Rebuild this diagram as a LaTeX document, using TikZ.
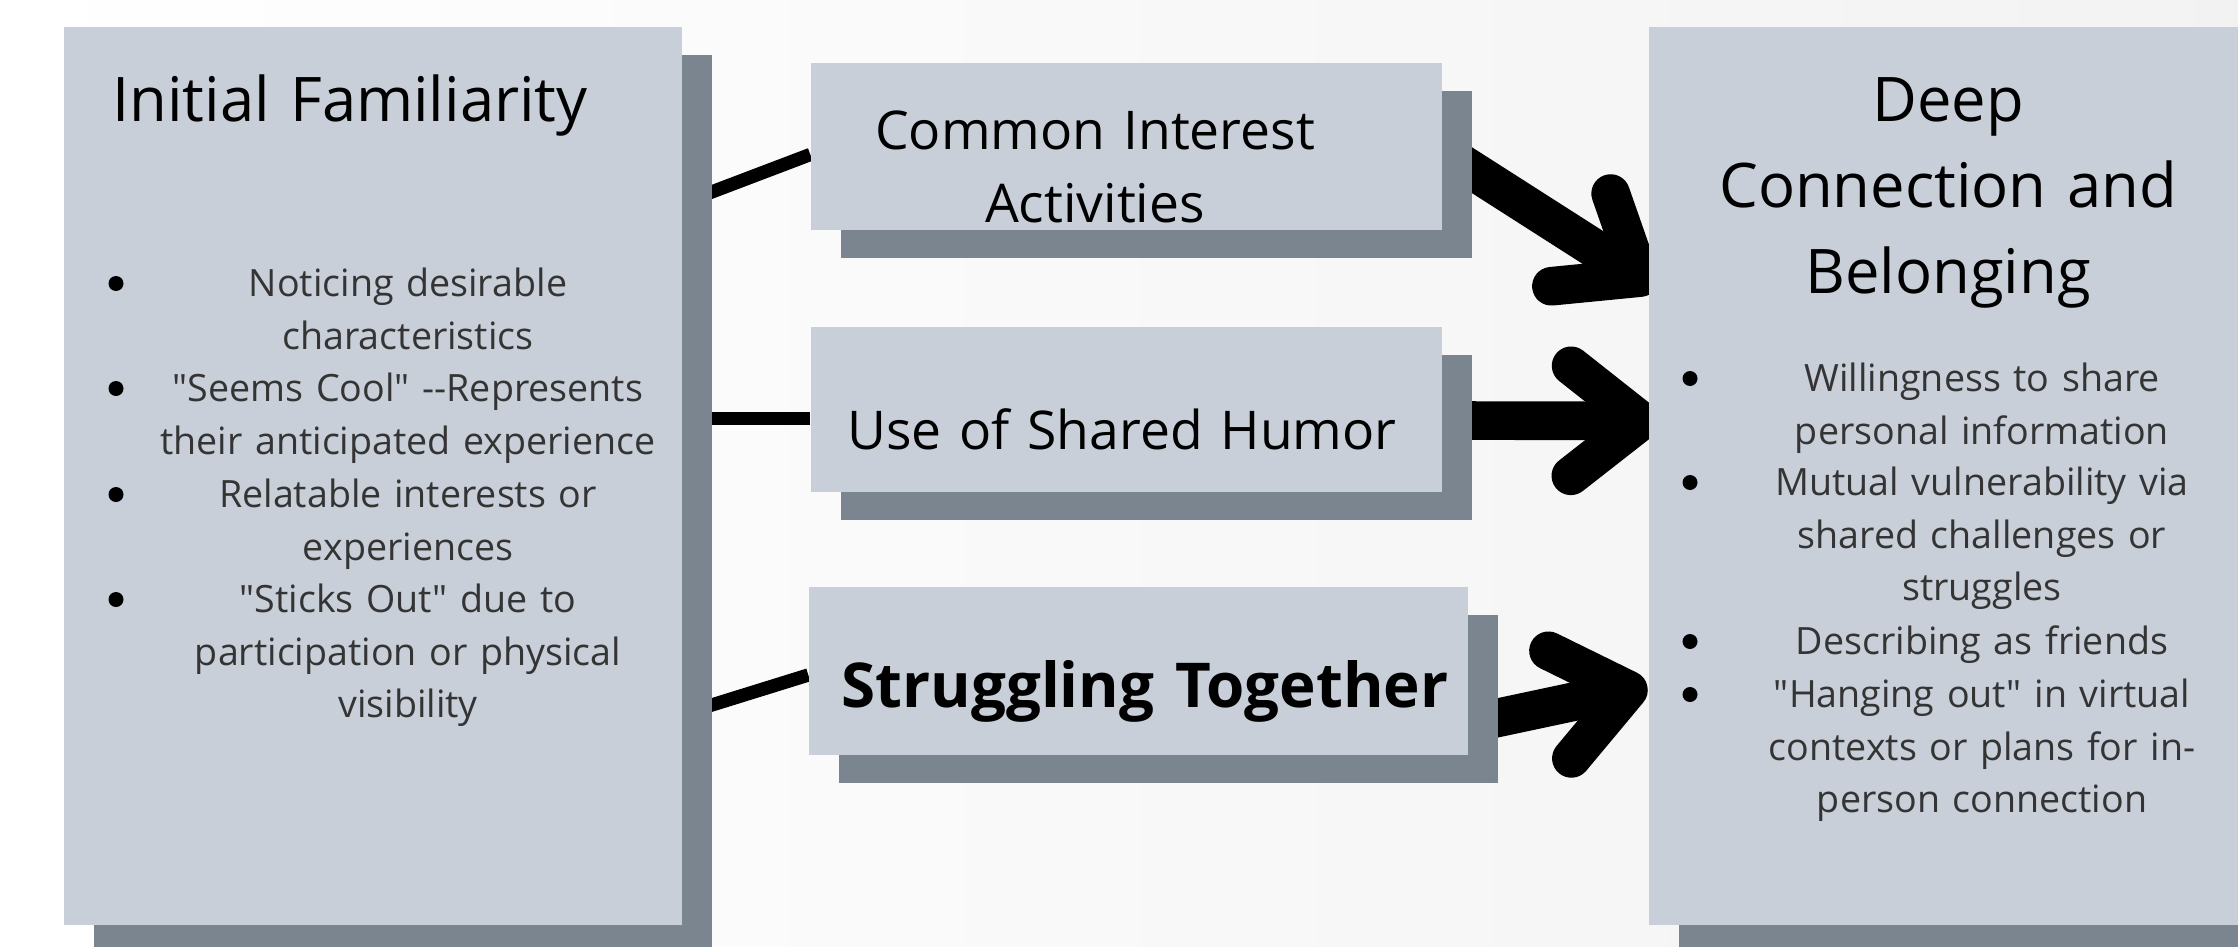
\documentclass[tikz,border=0pt]{standalone}
\usepackage{fontspec}
\setmainfont{Open Sans}[Ligatures=TeXOff]
\usepackage{xcolor}
\usetikzlibrary{positioning}
\usetikzlibrary{shadows,calc}
\usetikzlibrary{arrows.meta}
\definecolor{cardblue}{RGB}{200,207,217}
\definecolor{cardshade}{RGB}{122,133,143}
\definecolor{inkgray}{RGB}{52,52,52}
\pgfdeclarelayer{back}
\pgfdeclarelayer{links}
\pgfsetlayers{back,links,main}
\tikzstyle{card} = [rectangle, fill=cardblue, inner sep=0pt, drop shadow={shadow xshift=0.3cm, shadow yshift=-0.28cm, fill=cardshade, opacity=1}]
\tikzstyle{headtext} = [font=\fontsize{17.5}{24.4}\selectfont, text width=7cm, align=center, inner sep=0pt, anchor=base]
\tikzstyle{cardtext} = [font=\fontsize{15.2}{21}\selectfont, text width=7cm, align=center, inner sep=0pt, anchor=base]
\tikzstyle{itemtext} = [font=\fontsize{10.7}{15}\selectfont, text=inkgray, text width=5.6cm, align=center, inner sep=0pt, anchor=base]
\tikzstyle{bulletdot} = [circle, fill=black, inner sep=0pt, minimum size=0.15cm]
\tikzstyle{thinlink} = [line width=3.8pt]
\tikzstyle{bigarrow} = [line width=11pt, -{Straight Barb[length=0.7cm, width=1.1cm, round]}]

\begin{document}
\begin{tikzpicture}
      \useasboundingbox (0,0) rectangle (22.38,9.46);
      \begin{pgfonlayer}{back}
      \shade[left color=white, right color=black!5] (0,0) rectangle (22.38,9.46);
      \end{pgfonlayer}
      \node[card, minimum width=6.18cm, minimum height=8.98cm] (fam) at (3.73,4.70) {};
      \node[card, minimum width=6.51cm, minimum height=8.98cm] (deep) at (19.745,4.70) {};
      \node[card, minimum width=6.31cm, minimum height=1.67cm] (cia) at (11.265,7.995) {};
      \node[card, minimum width=6.31cm, minimum height=1.65cm] (hum) at (11.265,5.365) {};
      \node[card, minimum width=6.59cm, minimum height=1.68cm] (st) at (11.385,2.75) {};
      \node[headtext] (famtitle) at (3.50,8.24) {Initial Familiarity};
      \node[headtext] (deeptitle) at (19.48,8.24) {Deep\\Connection and\\Belonging};
      \node[cardtext] (ciatext) at (10.95,7.97) {Common Interest\\Activities};
      \node[cardtext] (humtext) at (11.22,4.97) {Use of Shared Humor};
      \node[cardtext, font=\fontsize{17.6}{21}\selectfont\bfseries] (sttext) at (11.45,2.39) {Struggling Together};
      \node[itemtext] (f1) at (4.08,6.495) {Noticing desirable\\characteristics};
      \node[itemtext] (f2) at (4.08,5.445) {"Seems Cool" --Represents\\their anticipated experience};
      \node[itemtext] (f3) at (4.08,4.385) {Relatable interests or\\experiences};
      \node[itemtext] (f4) at (4.08,3.335) {"Sticks Out" due to\\participation or physical\\visibility};
      \node[bulletdot] (fb1) at (1.16,6.625) {};
      \node[bulletdot] (fb2) at (1.16,5.575) {};
      \node[bulletdot] (fb3) at (1.16,4.515) {};
      \node[bulletdot] (fb4) at (1.16,3.465) {};
      \node[itemtext] (d1) at (19.82,5.545) {Willingness to share\\personal information};
      \node[itemtext] (d2) at (19.82,4.505) {Mutual vulnerability via\\shared challenges or\\struggles};
      \node[itemtext] (d3) at (19.82,2.915) {Describing as friends};
      \node[itemtext] (d4) at (19.82,2.385) {"Hanging out" in virtual\\contexts or plans for in-\\person connection};
      \node[bulletdot] (db1) at (16.90,5.675) {};
      \node[bulletdot] (db2) at (16.90,4.635) {};
      \node[bulletdot] (db3) at (16.90,3.045) {};
      \node[bulletdot] (db4) at (16.90,2.515) {};
      % links sit under the cards
      \begin{pgfonlayer}{links}
      \draw[thinlink] ($(fam.east)+(0,2.73)$) -- ($(cia.west)+(0,-0.08)$);
      \draw[thinlink] ($(fam.east |- hum.west)+(0,-0.09)$) -- ($(hum.west)+(0,-0.09)$);
      \draw[thinlink] ($(fam.east)+(0,-2.38)$) -- ($(st.west)+(0,-0.04)$);
      \draw[bigarrow] ([yshift=-0.05cm]cia.east) -- ($(deep.west)+(0.08,1.88)$);
      \draw[bigarrow] ([yshift=-0.11cm]hum.east) -- ($(deep.west)+(0.12,0.55)$);
      \draw[bigarrow] ([yshift=-0.53cm]st.east) -- ($(deep.west)+(-0.01,-2.10)$);
      \end{pgfonlayer}
\end{tikzpicture}
\end{document}
